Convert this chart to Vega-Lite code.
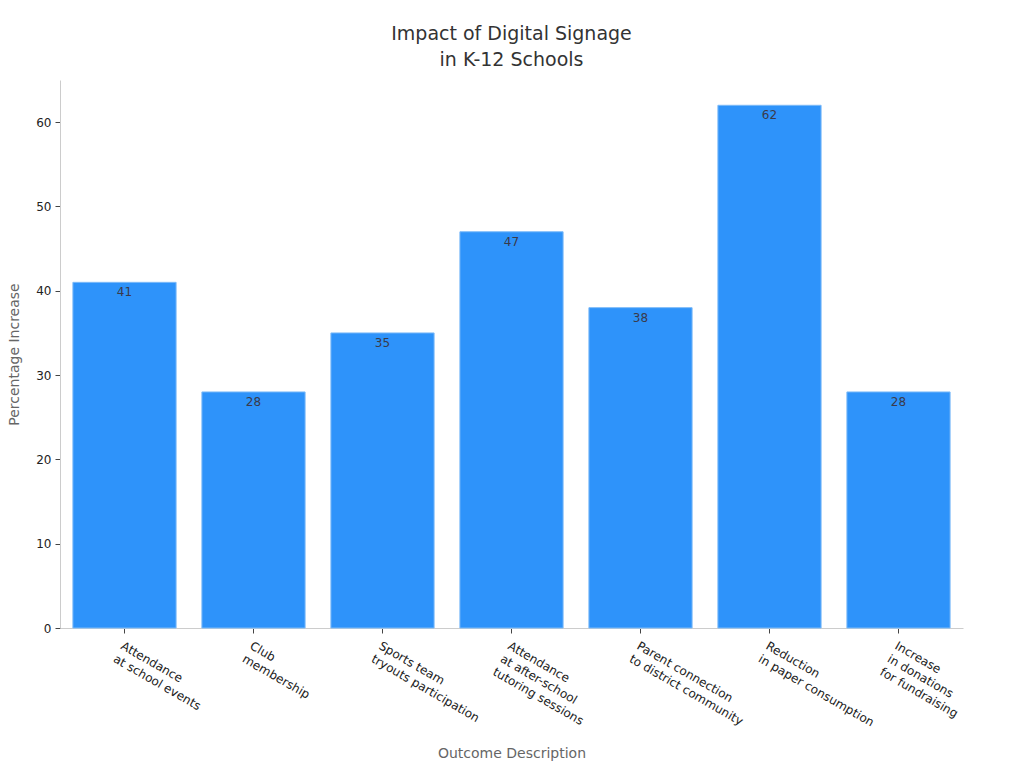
{
  "$schema": "https://vega.github.io/schema/vega-lite/v6.json",
  "width": 903,
  "height": 548,
  "autosize": {"type": "none"},
  "padding": {"left": 60, "top": 80, "right": 61, "bottom": 140},
  "background": "white",
  "config": {
    "font": "DejaVu Sans",
    "view": {"stroke": null}
  },
  "title": {
    "text": ["Impact of Digital Signage", "in K-12 Schools"],
    "fontSize": 19,
    "fontWeight": "normal",
    "color": "#333333",
    "lineHeight": 26,
    "anchor": "middle",
    "offset": 10
  },
  "data": {
    "values": [
      {"outcome": "Attendance\nat school events", "increase": 41},
      {"outcome": "Club\nmembership", "increase": 28},
      {"outcome": "Sports team\ntryouts participation", "increase": 35},
      {"outcome": "Attendance\nat after-school\ntutoring sessions", "increase": 47},
      {"outcome": "Parent connection\nto district community", "increase": 38},
      {"outcome": "Reduction\nin paper consumption", "increase": 62},
      {"outcome": "Increase\nin donations\nfor fundraising", "increase": 28}
    ]
  },
  "encoding": {
    "x": {
      "field": "outcome",
      "type": "nominal",
      "sort": null,
      "scale": {"paddingInner": 0.2, "paddingOuter": 0.1},
      "axis": {
        "title": "Outcome Description",
        "titleFontSize": 14,
        "titleFontWeight": "normal",
        "titleColor": "#666666",
        "titlePadding": 18,
        "labelExpr": "split(datum.label, '\\n')",
        "labelAngle": 30,
        "labelAlign": "left",
        "labelBaseline": "top",
        "labelFontSize": 12,
        "labelLineHeight": 15,
        "labelColor": "#222222",
        "labelPadding": 7,
        "domainColor": "#cccccc",
        "tickColor": "#444444",
        "tickSize": 5
      }
    },
    "y": {
      "field": "increase",
      "type": "quantitative",
      "scale": {"domain": [0, 65], "nice": false},
      "axis": {
        "title": "Percentage Increase",
        "titleFontSize": 14,
        "titleFontWeight": "normal",
        "titleColor": "#666666",
        "titlePadding": 14,
        "values": [0, 10, 20, 30, 40, 50, 60],
        "grid": false,
        "labelFontSize": 12,
        "labelColor": "#222222",
        "labelPadding": 4,
        "domainColor": "#cccccc",
        "tickColor": "#444444",
        "tickSize": 5
      }
    }
  },
  "layer": [
    {
      "mark": {"type": "bar", "color": "#2E93FA", "stroke": "#7DBBF8", "strokeWidth": 1}
    },
    {
      "mark": {"type": "text", "baseline": "top", "dy": 5, "fontSize": 12, "color": "#3a3a4a"},
      "encoding": {"text": {"field": "increase", "type": "quantitative"}}
    }
  ]
}
